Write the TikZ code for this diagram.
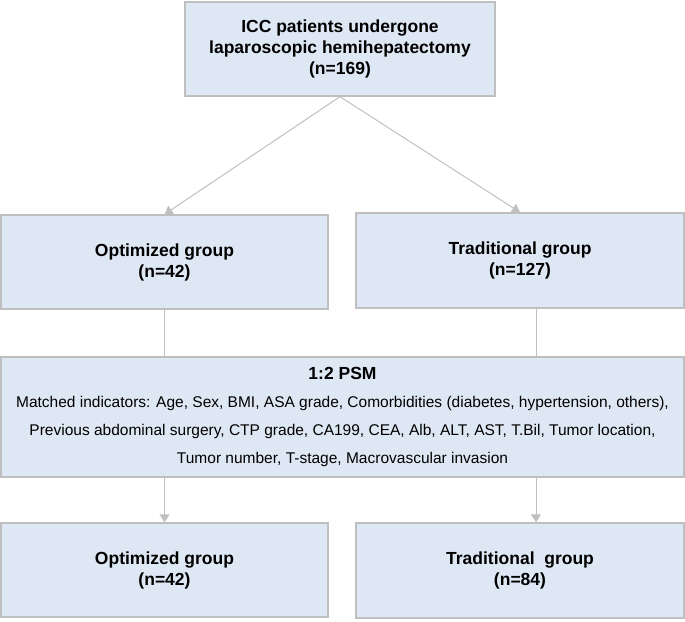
\documentclass[tikz,border=0pt]{standalone}
\usepackage{fontspec}
\setmainfont{Liberation Sans}
\usepackage{tikz}
\usetikzlibrary{arrows.meta}

\definecolor{boxfill}{HTML}{DEE8F4}
\definecolor{boxline}{HTML}{BFBFBF}
\definecolor{arrline}{HTML}{C0C0C0}

\begin{document}
\begin{tikzpicture}[x=1pt,y=-1pt,
        box/.style={draw=boxline,fill=boxfill,line width=1.4pt,align=center,
            inner sep=0pt,font=\fontsize{17.5}{21}\selectfont\bfseries},
        arr/.style={draw=arrline,line width=1pt,-{Triangle[width=10pt,length=8pt]}},
        link/.style={draw=arrline,line width=1pt}]
        \useasboundingbox (0,0) rectangle (685,621);

        \node[box,minimum width=310,minimum height=94] (top) at (340,49)
            {ICC patients undergone\\laparoscopic hemihepatectomy\\(n=169)};
        % sec line
        \node[box,minimum width=327,minimum height=94] (optA) at (164.5,262)
            {Optimized group\\(n=42)};
        \node[box,minimum width=328,minimum height=95] (tradA) at (520,260.5)
            {Traditional group\\(n=127)};
        % third line
        \node[box,minimum width=683,minimum height=120,
            font=\fontsize{15.5}{28}\selectfont] (psm) at (342.5,417)
            {{\fontsize{17.5}{21}\selectfont\bfseries 1:2 PSM}\\
            Matched indicators: Age, Sex, BMI, ASA grade, Comorbidities (diabetes, hypertension, others),\\
            Previous abdominal surgery, CTP grade, CA199, CEA, Alb, ALT, AST, T.Bil, Tumor location,\\
            Tumor number, T-stage, Macrovascular invasion};
        % bottom line
        \node[box,minimum width=327,minimum height=94] (optB) at (164.5,570)
            {Optimized group\\(n=42)};
        \node[box,minimum width=328,minimum height=95] (tradB) at (520,570.5)
            {Traditional~ group\\(n=84)};

        \coordinate (rgt) at (536,0);
        \draw[arr] (top.south) -- (optA.north);
        \draw[arr] (top.south) -- (tradA.north);
        \draw[link] (optA.south) -- (optA.south |- psm.north);
        \draw[link] (rgt |- tradA.south) -- (rgt |- psm.north);
        \draw[arr] (psm.south -| optB.north) -- (optB.north);
        \draw[arr] (rgt |- psm.south) -- (rgt |- tradB.north);
    \end{tikzpicture}
\end{document}
